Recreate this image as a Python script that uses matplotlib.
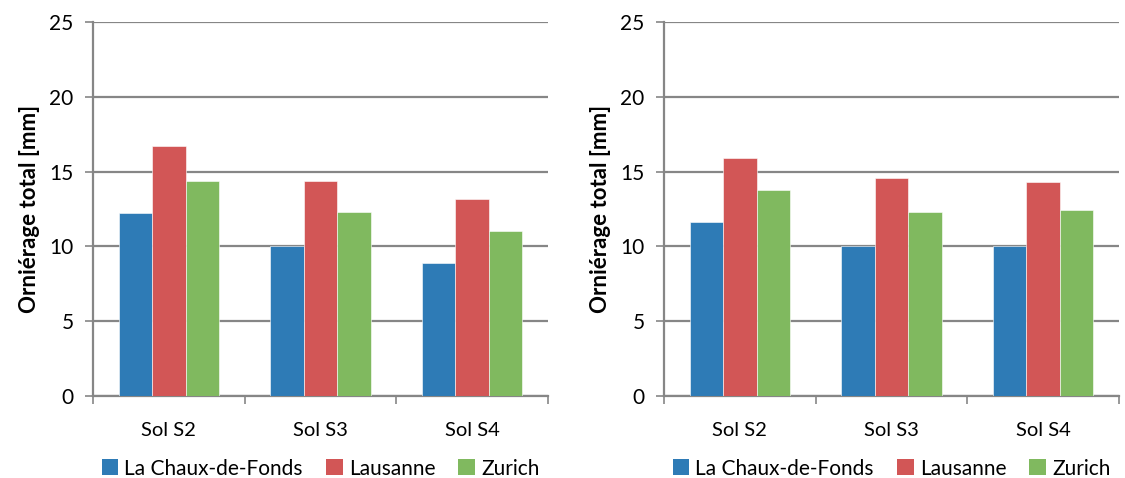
import matplotlib
matplotlib.use("Agg")
import matplotlib.pyplot as plt
import numpy as np
from matplotlib.patches import Patch

categories = ["Sol S2", "Sol S3", "Sol S4"]
series_names = ["La Chaux-de-Fonds", "Lausanne", "Zurich"]
colors = ["#2e7bb6", "#d25656", "#80b95f"]

left_chaux = [12.2, 10.0, 8.9]
left_lausanne = [16.7, 14.4, 13.2]
left_zurich = [14.4, 12.3, 11.05]

right_chaux = [11.65, 10.0, 10.0]
right_lausanne = [15.9, 14.55, 14.3]
right_zurich = [13.8, 12.3, 12.4]

yticks = [0, 5, 10, 15, 20, 25]
ylabel = "Orniérage total [mm]"

plt.rcParams['font.family'] = ['Lato', 'DejaVu Sans']
GRAY = "#868686"

fig = plt.figure(figsize=(11.25, 4.78), dpi=100)
ax1 = fig.add_axes([93/1125, 1-396/478, 455/1125, 374/478])
ax2 = fig.add_axes([664/1125, 1-396/478, 455/1125, 374/478])

def draw(ax, data):
    x = np.arange(len(categories))
    w = 0.22
    for i, (vals, col) in enumerate(zip(data, colors)):
        ax.bar(x + (i - 1) * w, vals, width=w, color=col, zorder=3,
               edgecolor="white", linewidth=0.4)
    ax.set_xlim(-0.5, 2.5)
    ax.set_ylim(0, 25)
    ax.set_yticks(yticks)
    ax.set_yticklabels([str(t) for t in yticks], fontsize=15)
    ax.yaxis.grid(True, color=GRAY, linewidth=1.6, zorder=0)
    ax.set_axisbelow(True)
    ax.set_xticks([-0.5, 0.5, 1.5, 2.5])
    ax.set_xticklabels([])
    ax.set_xticks(x, minor=True)
    ax.set_xticklabels(categories, minor=True, fontsize=14.5)
    ax.tick_params(axis='x', which='minor', length=0, pad=19)
    ax.tick_params(axis='x', which='major', length=6, width=1.2, color=GRAY, direction='out')
    ax.tick_params(axis='y', length=6, width=1.2, color=GRAY, direction='out', pad=8)
    for s in ['top', 'right']:
        ax.spines[s].set_visible(False)
    for s in ['left', 'bottom']:
        ax.spines[s].set_color(GRAY)
        ax.spines[s].set_linewidth(1.6)
    ax.set_ylabel(ylabel, fontsize=16, fontweight='bold', labelpad=7)
    handles = [Patch(facecolor=c, edgecolor='none') for c in colors]
    ax.legend(handles, series_names, loc='upper center', bbox_to_anchor=(0.5, -0.145),
              ncol=3, frameon=False, fontsize=15, handlelength=0.8, handleheight=0.8,
              handletextpad=0.3, columnspacing=1.1, borderaxespad=0)

draw(ax1, [left_chaux, left_lausanne, left_zurich])
draw(ax2, [right_chaux, right_lausanne, right_zurich])

fig.savefig("out.png", dpi=100, facecolor="white")
